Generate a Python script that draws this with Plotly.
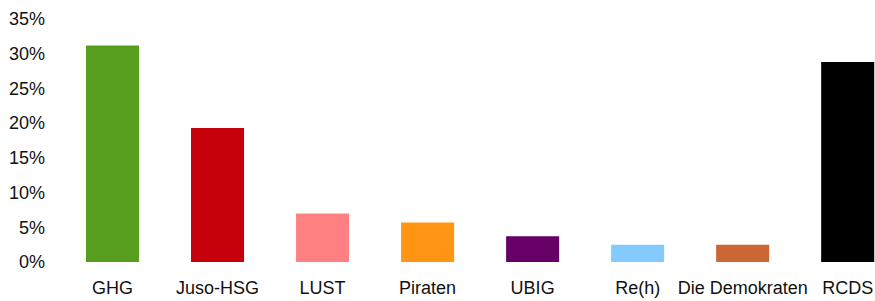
import plotly.graph_objects as go

categories = ["GHG", "Juso-HSG", "LUST", "Piraten", "UBIG", "Re(h)", "Die Demokraten", "RCDS"]
values = [31.2, 19.3, 7.0, 5.7, 3.7, 2.5, 2.5, 28.8]
colors = ["#589E1E", "#C5000B", "#FF8080", "#FF9512", "#660066", "#83CAFF", "#CC6633", "#000000"]
y_ticks = [0, 5, 10, 15, 20, 25, 30, 35]
y_tick_labels = [f"{v}%" for v in y_ticks]

fig = go.Figure(go.Bar(
    x=categories, y=values, marker_color=colors, marker_line_width=0, width=0.505,
))

fig.update_layout(
    width=875, height=301,
    margin=dict(l=60, r=0, t=19, b=39, autoexpand=False),
    paper_bgcolor="white", plot_bgcolor="white",
    font=dict(family="Liberation Sans, Arial, sans-serif", size=18, color="#111111"),
    showlegend=False,
)
fig.update_xaxes(range=[-0.5, 7.26], showgrid=False, showline=False, ticks="",
                 ticklabelstandoff=13, tickfont=dict(size=18), automargin=False)
fig.update_yaxes(range=[0, 35], tickvals=y_ticks, ticktext=y_tick_labels, showgrid=False,
                 zeroline=False, showline=False, ticks="", ticklabelstandoff=14,
                 tickfont=dict(size=18), automargin=False)

fig.write_html(
    "out.html",
    config={"displayModeBar": False},
    post_script="document.body.style.margin='0';document.body.style.overflow='hidden';",
)
